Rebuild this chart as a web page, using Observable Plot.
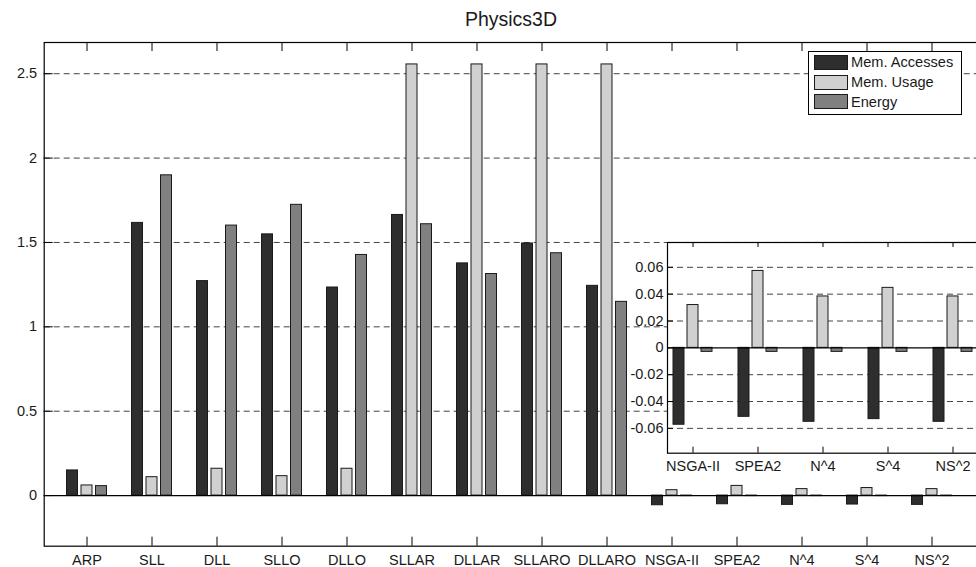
<!DOCTYPE html>
<html>
<head>
<meta charset="utf-8">
<script src="https://cdn.jsdelivr.net/npm/d3@7"></script>
<script src="https://cdn.jsdelivr.net/npm/@observablehq/plot@0.6"></script>
<style>
html, body { margin: 0; padding: 0; background: #fff; overflow: hidden; width: 976px; height: 567px; }
body { position: relative; font-family: "Liberation Sans", Arial, Helvetica, sans-serif; color: #1a1a1a; }
#title { position: absolute; left: 511px; top: 10px; transform: translateX(-50%); font-size: 19.5px; line-height: 19px; white-space: nowrap; }
#main { position: absolute; left: 0; top: 35px; }
#inset { position: absolute; left: 610px; top: 232px; }
#legend { position: absolute; left: 808px; top: 51px; width: 154px; height: 64px; box-sizing: border-box; border: 1px solid #000; background: #fff; }
.row { position: absolute; left: 5px; height: 16px; display: flex; align-items: center; }
.sw { width: 34px; height: 15px; box-sizing: border-box; border: 1px solid #1a1a1a; margin-right: 3px; }
.lab { font-size: 14.6px; line-height: 16px; white-space: nowrap; }
</style>
</head>
<body>
<div id="title">Physics3D</div>
<div id="main"></div>
<div id="inset"></div>
<div id="legend"></div>
<script>
// ---- data ----
const categories = ["ARP", "SLL", "DLL", "SLLO", "DLLO", "SLLAR", "DLLAR", "SLLARO", "DLLARO", "NSGA-II", "SPEA2", "N^4", "S^4", "NS^2"];
const memAccesses = [0.149, 1.616, 1.271, 1.548, 1.233, 1.663, 1.376, 1.494, 1.243, -0.0573, -0.0514, -0.0551, -0.0531, -0.0551];
const memUsage    = [0.060, 0.109, 0.159, 0.115, 0.159, 2.555, 2.555, 2.555, 2.555, 0.0319, 0.0573, 0.0383, 0.0447, 0.0383];
const energy      = [0.056, 1.898, 1.600, 1.723, 1.426, 1.608, 1.313, 1.436, 1.148, -0.003, -0.003, -0.003, -0.003, -0.003];
const insetStart = 9; // inset shows NSGA-II .. NS^2
const seriesNames = ["Mem. Accesses", "Mem. Usage", "Energy"];
const seriesColors = ["#2e2e2e", "#d0d0d0", "#808080"];
const mainYTicks = [0, 0.5, 1, 1.5, 2, 2.5];
const insetYTicks = [-0.06, -0.04, -0.02, 0, 0.02, 0.04, 0.06];

const seriesValues = [memAccesses, memUsage, energy];
const font = "Liberation Sans, Arial, Helvetica, sans-serif";
const fs = 14.5;

function rows(cats, vals) { return cats.map((c, i) => ({category: c, value: vals[i]})); }

// ---- main chart ----
const mW = 976, mH = 532, mTop = 7, mBottom = 21.3, mLeft = 43.7, mRight = -4;
const mFrameH = mH - mTop - mBottom, mFrameW = mW - mRight - mLeft;
const mainOffsets = [-14.5, 0, 14.5];

const mainMarks = [
  Plot.ruleY(mainYTicks.filter(d => d !== 0), {y: d => d, stroke: "#444", strokeWidth: 1, strokeDasharray: "6,4"}),
  ...seriesValues.map((vals, s) => Plot.barY(rows(categories, vals), {
    x: "category", y: "value", fill: seriesColors[s], stroke: "#1a1a1a", strokeWidth: 1, dx: mainOffsets[s]
  })),
  Plot.ruleY([0], {stroke: "#000", strokeWidth: 1.2}),
  Plot.tickX(categories, {x: d => d, insetTop: mFrameH - 9, stroke: "#000"}),
  Plot.tickX(categories, {x: d => d, insetBottom: mFrameH - 9, stroke: "#000"}),
  Plot.tickY(mainYTicks, {y: d => d, insetRight: mFrameW - 9, stroke: "#000"}),
  Plot.frame({stroke: "#000", strokeWidth: 1.2}),
  Plot.axisX({anchor: "bottom", tickSize: 0, tickPadding: 8.5, fontSize: fs, label: null}),
  Plot.axisY(mainYTicks, {anchor: "left", tickSize: 0, tickPadding: 7, fontSize: fs, label: null, tickFormat: d => String(d)})
];

const mainPlot = Plot.plot({
  width: mW, height: mH,
  marginTop: mTop, marginBottom: mBottom, marginLeft: mLeft, marginRight: mRight,
  style: {background: "transparent", fontFamily: font, fontSize: fs + "px", color: "#1a1a1a", overflow: "hidden"},
  x: {type: "band", domain: categories, paddingInner: 0.8318, paddingOuter: 0.5744, align: 0.459, label: null},
  y: {domain: [-0.3, 2.685], label: null},
  marks: mainMarks
});
document.getElementById("main").append(mainPlot);

// ---- inset chart ----
const insetCats = categories.slice(insetStart);
const iW = 366, iH = 250, iTop = 10, iBottom = 29.3, iLeft = 57, iRight = -14;
const iFrameH = iH - iTop - iBottom, iFrameW = iW - iRight - iLeft;
const insetOffsets = [-14, 0, 14];

const insetMarks = [
  Plot.frame({fill: "white", stroke: "none"}),
  Plot.ruleY(insetYTicks.filter(d => d !== 0), {y: d => d, stroke: "#444", strokeWidth: 1, strokeDasharray: "6,4"}),
  ...seriesValues.map((vals, s) => Plot.barY(rows(insetCats, vals.slice(insetStart)), {
    x: "category", y: "value", fill: seriesColors[s], stroke: "#1a1a1a", strokeWidth: 1, dx: insetOffsets[s]
  })),
  Plot.ruleY([0], {stroke: "#000", strokeWidth: 1.2}),
  Plot.tickX(insetCats, {x: d => d, insetTop: iFrameH - 6, stroke: "#000"}),
  Plot.tickX(insetCats, {x: d => d, insetBottom: iFrameH - 5, stroke: "#000"}),
  Plot.tickY(insetYTicks, {y: d => d, insetRight: iFrameW - 6, stroke: "#000"}),
  Plot.frame({stroke: "#000", strokeWidth: 1.2}),
  Plot.axisX({anchor: "bottom", tickSize: 0, tickPadding: 7.5, fontSize: fs, label: null}),
  Plot.axisY(insetYTicks, {anchor: "left", tickSize: 0, tickPadding: 4, fontSize: fs, label: null,
    tickFormat: d => d === 0 ? "0" : d.toFixed(2)})
];

const insetPlot = Plot.plot({
  width: iW, height: iH,
  marginTop: iTop, marginBottom: iBottom, marginLeft: iLeft, marginRight: iRight,
  style: {background: "transparent", fontFamily: font, fontSize: fs + "px", color: "#1a1a1a", overflow: "hidden"},
  x: {type: "band", domain: insetCats, paddingInner: 0.8315, paddingOuter: 0.389, align: 0.378, label: null},
  y: {domain: [-0.0785, 0.0785], label: null},
  marks: insetMarks
});
document.getElementById("inset").append(insetPlot);

// ---- legend ----
const legend = document.getElementById("legend");
const rowTops = [2, 22, 41.5];
seriesNames.forEach((name, i) => {
  const r = document.createElement("div");
  r.className = "row";
  r.style.top = rowTops[i] + "px";
  const sw = document.createElement("div");
  sw.className = "sw";
  sw.style.background = seriesColors[i];
  const lab = document.createElement("span");
  lab.className = "lab";
  lab.textContent = name;
  r.append(sw, lab);
  legend.append(r);
});
</script>
</body>
</html>
